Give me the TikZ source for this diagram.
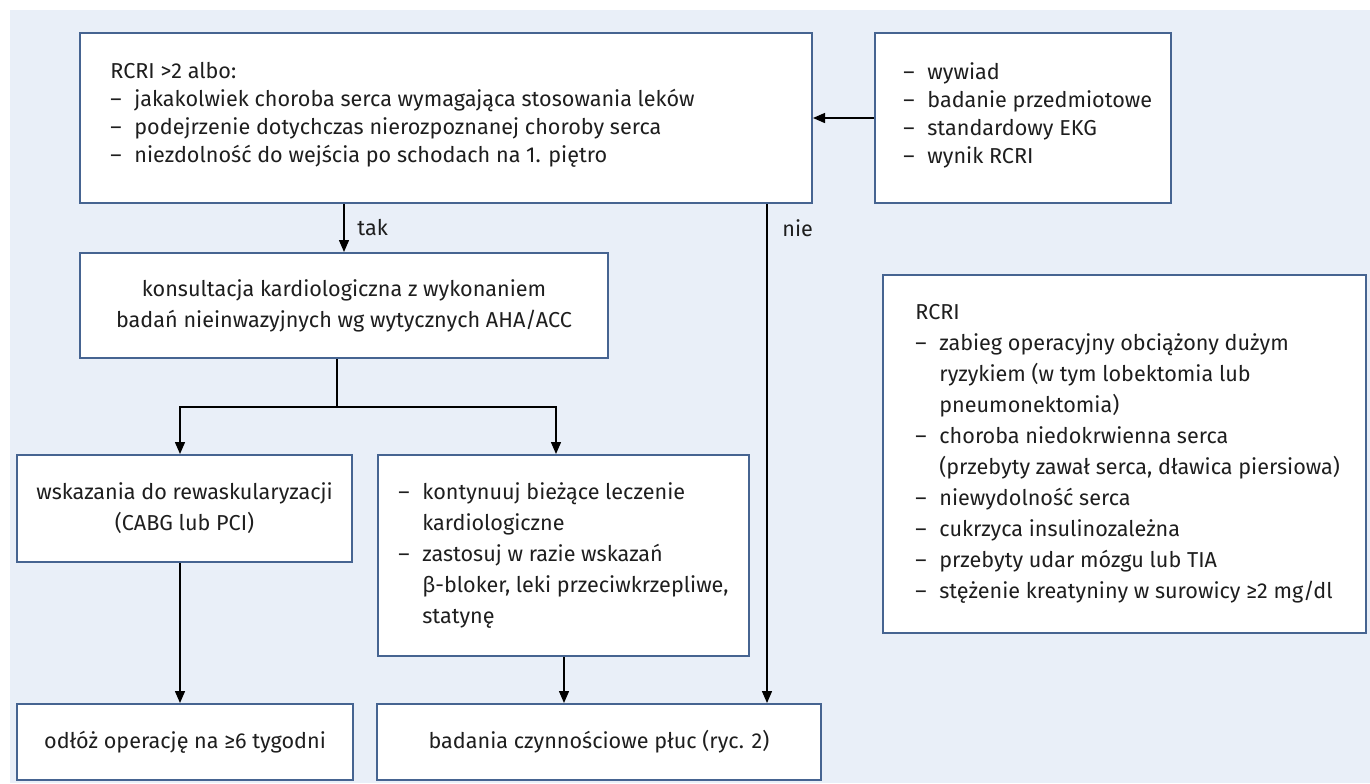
\documentclass[tikz,border=0pt]{standalone}
\usepackage{fontspec}
\setmainfont{Fira Sans}
\usetikzlibrary{arrows.meta}
\definecolor{bgblue}{RGB}{233,239,248}
\definecolor{boxline}{RGB}{70,100,145}
\definecolor{txt}{RGB}{30,30,30}
\newcommand\dd{\makebox[12pt][l]{–}}
\newcommand\ind{\hspace*{12pt}}
\newcommand\fs{\fontsize{10.8pt}{15.5pt}\selectfont}
\newcommand\fst{\fontsize{10.8pt}{14pt}\selectfont}
\begin{document}
\begin{tikzpicture}[x=0.5pt,y=-0.5pt,
  box/.style={draw=boxline, line width=1pt, fill=white, inner sep=0pt, text=txt, font=\fs, align=center},
  tb/.style={inner sep=0pt, align=left, text=txt, font=\fs, anchor=west},
  lbl/.style={inner sep=0pt, text=txt, font=\fs, anchor=west},
  arr/.style={draw=black, line width=0.7pt, -{Triangle[length=6pt,width=5pt]}},
  ln/.style={draw=black, line width=0.7pt}
]
\useasboundingbox (0,0) rectangle (1370,783);
\fill[bgblue] (10,10) rectangle (1370,783);

% boxes
\node[box, minimum width=366pt, minimum height=85pt] (A) at (446,118) {};
\node[box, minimum width=148pt, minimum height=85pt] (B) at (1023,118) {};
\node[box, minimum width=264pt, minimum height=52.5pt] (H) at (344,305.5)
  {konsultacja kardiologiczna z wykonaniem\\badań nieinwazyjnych wg wytycznych AHA/ACC};
\node[box, minimum width=167.5pt, minimum height=53.5pt] (C) at (184.5,508.5)
  {wskazania do rewaskularyzacji\\(CABG lub PCI)};
\node[box, minimum width=185.5pt, minimum height=100.5pt] (D) at (563.5,555.5) {};
\node[box, minimum width=168pt, minimum height=38pt] (E) at (185,742)
  {odłóż operację na ≥6 tygodni};
\node[box, minimum width=222pt, minimum height=38pt] (F) at (599,742)
  {badania czynnościowe płuc (ryc. 2)};
\node[box, minimum width=241.5pt, minimum height=179pt] (G) at (1124.5,454) {};

% texts of left-aligned boxes
\node[tb, font=\fst] (At) at (110,115) {RCRI >2 albo:\\
  \dd jakakolwiek choroba serca wymagająca stosowania leków\\
  \dd podejrzenie dotychczas nierozpoznanej choroby serca\\
  \dd niezdolność do wejścia po schodach na 1. piętro};
\node[tb, font=\fst] (Bt) at (903,115) {\dd wywiad\\ \dd badanie przedmiotowe\\ \dd standardowy EKG\\ \dd wynik RCRI};
\node[tb] (Dt) at (398,555.5) {\dd kontynuuj bieżące leczenie\\
  \ind kardiologiczne\\
  \dd zastosuj w razie wskazań\\
  \ind β-bloker, leki przeciwkrzepliwe,\\
  \ind statynę};
\node[tb] (Gt) at (915,454) {RCRI\\
  \dd zabieg operacyjny obciążony dużym\\
  \ind ryzykiem (w tym lobektomia lub\\
  \ind pneumonektomia)\\
  \dd choroba niedokrwienna serca\\
  \ind (przebyty zawał serca, dławica piersiowa)\\
  \dd niewydolność serca\\
  \dd cukrzyca insulinozależna\\
  \dd przebyty udar mózgu lub TIA\\
  \dd stężenie kreatyniny w surowicy ≥2 mg/dl};

% helper coordinates
\coordinate (nx) at (767,0);
\coordinate (j) at (337,407);
\coordinate (cx) at (180,0);
\coordinate (dx) at (556,0);
\coordinate (fx) at (564,0);

% connectors
\draw[arr] (B.west) -- (A.east);
\draw[arr] (H.north |- A.south) -- (H.north);
\node[lbl] (tak) at (357,228) {tak};
\draw[arr] (A.south -| nx) -- (F.north -| nx);
\node[lbl] (nie) at (782,228) {nie};
\draw[ln] (H.south -| j) -- (j);
\draw[arr] (j) -| (C.north -| cx);
\draw[arr] (j) -| (D.north -| dx);
\draw[arr] (C.south -| cx) -- (E.north -| cx);
\draw[arr] (D.south -| fx) -- (F.north -| fx);
\end{tikzpicture}
\end{document}
